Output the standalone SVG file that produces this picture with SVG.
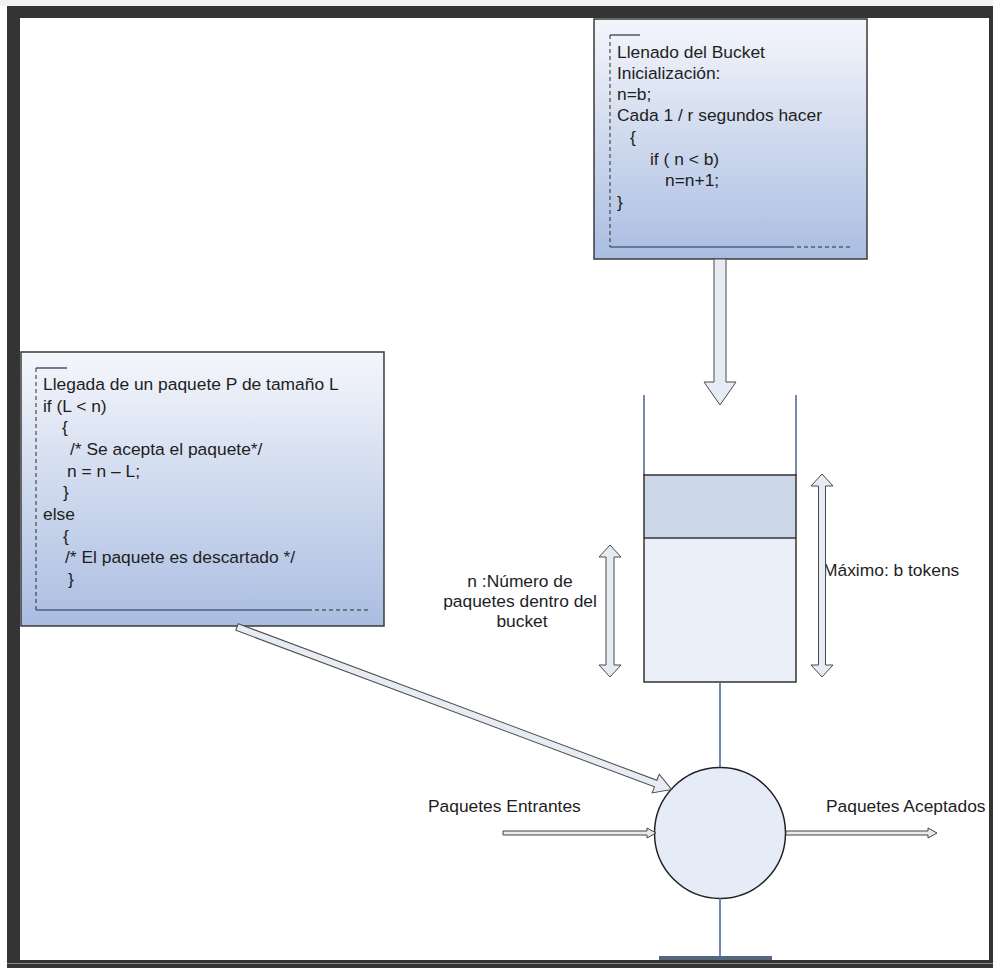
<svg xmlns="http://www.w3.org/2000/svg" width="993" height="968" viewBox="0 0 993 968">
  <style>
    .t { font-family: "Liberation Sans", Arial, sans-serif; font-size: 17.4px; fill: #1e1e1e; }
    .box { fill: url(#boxFill); stroke: #3a3a3a; stroke-width: 1.5; }
    .dash { fill: none; stroke: #2b2b2b; stroke-width: 1; stroke-dasharray: 4 3; }
    .solid { fill: none; stroke: #26304a; stroke-width: 1.2; }
    .block { fill: #e7ebf3; stroke: #4a4a4a; stroke-width: 1; stroke-linejoin: miter; }
    .thin { fill: #e9e9ec; stroke: #454545; stroke-width: 1; }
    .wire { stroke: #4f6d9c; stroke-width: 1.6; fill: none; }
  </style>
  <defs>
    <linearGradient id="boxFill" x1="0" y1="0" x2="0" y2="1">
      <stop offset="0" stop-color="#f4f6fb"/>
      <stop offset="1" stop-color="#aabde1"/>
    </linearGradient>
  </defs>

  <!-- page frame -->
  <rect x="0" y="0" width="993" height="968" fill="#ffffff"/>
  <rect x="0" y="0" width="993" height="6" fill="#f2f2f2"/>
  <rect x="7" y="6" width="986" height="962" fill="#343434"/>
  <rect x="20" y="18" width="969" height="942" fill="#ffffff"/>
  <line x1="7" y1="963.5" x2="993" y2="963.5" stroke="#8a8a8a" stroke-width="1"/>

  <!-- bucket filling routine -->
  <g id="fill-box">
    <rect class="box" x="594" y="19" width="273" height="240"/>
    <path class="dash" d="M610,35 V247"/>
    <path class="solid" d="M610,35 H640"/>
    <path class="solid" d="M610,247 H790"/>
    <path class="dash" d="M790,247 H853"/>
    <text class="t" x="617" y="58">Llenado del Bucket</text>
    <text class="t" x="617" y="79">Inicialización:</text>
    <text class="t" x="617" y="100">n=b;</text>
    <text class="t" x="617" y="121">Cada 1 / r segundos hacer</text>
    <text class="t" x="630" y="143">{</text>
    <text class="t" x="650" y="165">if ( n &lt; b)</text>
    <text class="t" x="665" y="186">n=n+1;</text>
    <text class="t" x="617" y="208">}</text>
  </g>

  <!-- packet arrival routine -->
  <g id="arrival-box">
    <rect class="box" x="21" y="352" width="363" height="274"/>
    <path class="dash" d="M36,368 V610"/>
    <path class="solid" d="M36,368 H67"/>
    <path class="solid" d="M36,610 H308"/>
    <path class="dash" d="M308,610 H368"/>
    <text class="t" x="43" y="390">Llegada de un paquete P de tamaño L</text>
    <text class="t" x="43" y="412">if (L &lt; n)</text>
    <text class="t" x="62" y="433">{</text>
    <text class="t" x="70" y="455">/* Se acepta el paquete*/</text>
    <text class="t" x="67" y="477">n = n – L;</text>
    <text class="t" x="63" y="498">}</text>
    <text class="t" x="43" y="520">else</text>
    <text class="t" x="63" y="542">{</text>
    <text class="t" x="65" y="563">/* El paquete es descartado */</text>
    <text class="t" x="68" y="585">}</text>
  </g>

  <!-- token bucket -->
  <g id="bucket">
    <line class="wire" x1="644" y1="395" x2="644" y2="476"/>
    <line class="wire" x1="796" y1="395" x2="796" y2="476"/>
    <rect x="644" y="475" width="152" height="63" fill="#cdd7ea"/>
    <rect x="644" y="538" width="152" height="144" fill="#e9eef8"/>
    <rect x="644" y="475" width="152" height="207" fill="none" stroke="#333" stroke-width="1.5"/>
    <line x1="644" y1="538" x2="796" y2="538" stroke="#333" stroke-width="1.5"/>
  </g>

  <g id="level-label">
    <text class="t" x="520" y="587" text-anchor="middle">n :Número de</text>
    <text class="t" x="520" y="607" text-anchor="middle">paquetes dentro del</text>
    <text class="t" x="522" y="627" text-anchor="middle">bucket</text>
  </g>

  <g id="max-label">
    <text class="t" x="823" y="576">Máximo: b tokens</text>
  </g>

  <!-- regulator -->
  <g id="regulator">
    <circle cx="720" cy="833" r="65.5" fill="#e6ecf7" stroke="#222" stroke-width="1.5"/>
  </g>

  <g id="in-label">
    <text class="t" x="428" y="812">Paquetes Entrantes</text>
  </g>
  <g id="out-label">
    <text class="t" x="826" y="812">Paquetes Aceptados</text>
  </g>

  <!-- connectors -->
  <g id="connectors">
    <line class="wire" x1="720" y1="682" x2="720" y2="767"/>
    <line class="wire" x1="720" y1="898" x2="720" y2="958"/>
    <rect x="659" y="956" width="113" height="4" fill="#56667e"/>

    <polygon class="block" points="714,259 726,259 726,382 736,382 720,405 704,382 714,382"/>
    <polygon class="block" points="610,545 621,557 614,557 614,665 621,665 610,677 599,665 606,665 606,557 599,557"/>
    <polygon class="block" points="822,474 833,486 825.5,486 825.5,665 833,665 822,677 811,665 818.5,665 818.5,486 811,486"/>
    <g transform="translate(237,627) rotate(20.5)">
      <polygon class="block" points="0,-3.5 447,-3.5 447,-10 464,0 447,10 447,3.5 0,3.5"/>
    </g>
    <polygon class="thin" points="503,831 647,831 647,828 656,833 647,838 647,835 503,835"/>
    <polygon class="thin" points="786,831 928,831 928,828 937,833 928,838 928,835 786,835"/>
  </g>
</svg>
